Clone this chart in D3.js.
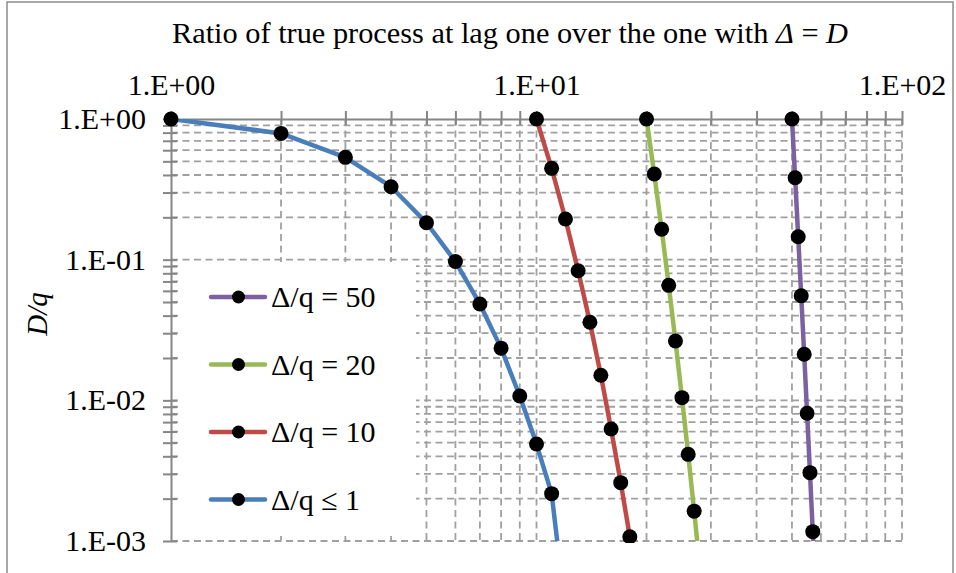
<!DOCTYPE html>
<html>
<head>
<meta charset="utf-8">
<script src="https://cdn.jsdelivr.net/npm/d3@7"></script>
<style>
  html, body { margin: 0; padding: 0; background: #ffffff; }
  svg { display: block; }
  text { font-family: "Liberation Serif", "Times New Roman", serif; fill: #000; }
</style>
</head>
<body>
<svg id="chart" width="956" height="573"></svg>
<script>
// ---- data --------------------------------------------------------------
const seriesNames = ["Δ/q ≤ 1", "Δ/q = 10", "Δ/q = 20", "Δ/q = 50"];

const blueX   = [1, 2, 3, 4, 5, 6, 7, 8, 9, 10, 11, 12];
const blueY   = [1, 0.79, 0.534, 0.330, 0.183, 0.097, 0.0484, 0.0235, 0.01074, 0.00489, 0.00217, 0.00032];

const redX    = [10, 11, 12, 13, 14, 15, 16, 17, 18, 19];
const redY    = [1, 0.446, 0.1946, 0.0835, 0.0359, 0.01508, 0.00625, 0.00260, 0.001073, 0.00046];

const greenX  = [20, 21, 22, 23, 24, 25, 26, 27, 28];
const greenY  = [1, 0.406, 0.1644, 0.0657, 0.0264, 0.01045, 0.00413, 0.00163, 0.00064];

const purpleX = [50, 51, 52, 53, 54, 55, 56, 57, 58];
const purpleY = [1, 0.3826, 0.1456, 0.0554, 0.02125, 0.00809, 0.00306, 0.001165, 0.00044];

const xMajorTicks = [1, 10, 100];
const yMajorTicks = [1, 0.1, 0.01, 0.001];

// ---- layout -------------------------------------------------------------
const svg = d3.select("#chart");
const W = 956, H = 573;
const plot = { left: 171, top: 119, right: 902, bottom: 541 };
const colors = ["#4A7EBB", "#BE4B48", "#98B954", "#7D60A0"];

const x = d3.scaleLog().domain([1, 100]).range([plot.left, plot.right]);
const y = d3.scaleLog().domain([1, 0.001]).range([plot.top, plot.bottom]);

// every 1..9 x 10^k value within a domain
function logSteps(lo, hi) {
  const out = [];
  for (let e = Math.round(Math.log10(lo)); e < Math.round(Math.log10(hi)); e++) {
    for (let m = 1; m < 10; m++) out.push(+(m * Math.pow(10, e)).toPrecision(6));
  }
  out.push(hi);
  return out;
}
const xAll = logSteps(1, 100);
const yAll = logSteps(0.001, 1);

const sci = v => {
  const e = Math.round(Math.log10(v));
  return "1.E" + (e < 0 ? "-" : "+") + String(Math.abs(e)).padStart(2, "0");
};

svg.append("rect").attr("width", W).attr("height", H).attr("fill", "#fff");

// chart area frame
svg.append("rect")
  .attr("x", 7).attr("y", 2).attr("width", 946).attr("height", 620)
  .attr("fill", "none").attr("stroke", "#8c8c8c").attr("stroke-width", 1.5);

// ---- title --------------------------------------------------------------
const title = svg.append("text")
  .attr("x", 510).attr("y", 43)
  .attr("text-anchor", "middle")
  .attr("textLength", 676)
  .attr("lengthAdjust", "spacingAndGlyphs")
  .style("font-size", "29px");
title.append("tspan").text("Ratio of true process at lag one over the one with ");
title.append("tspan").style("font-style", "italic").text("Δ");
title.append("tspan").text(" = ");
title.append("tspan").style("font-style", "italic").text("D");

// ---- gridlines ----------------------------------------------------------
const grid = svg.append("g")
  .attr("stroke", "#a0a0a0")
  .attr("stroke-width", 1.8)
  .attr("stroke-dasharray", "7,4.5")
  .attr("fill", "none");

grid.selectAll("line.v")
  .data(xAll.filter(v => v > 1))
  .join("line").attr("class", "v")
  .attr("x1", d => x(d)).attr("x2", d => x(d))
  .attr("y1", plot.top).attr("y2", plot.bottom);

grid.selectAll("line.h")
  .data(yAll.filter(v => v < 1))
  .join("line").attr("class", "h")
  .attr("y1", d => y(d)).attr("y2", d => y(d))
  .attr("x1", plot.left).attr("x2", plot.right);

// legend panel sits over the grid
const legendBox = { x: 178, y: 262, w: 238, h: 274 };
svg.append("rect")
  .attr("x", legendBox.x).attr("y", legendBox.y)
  .attr("width", legendBox.w).attr("height", legendBox.h)
  .attr("fill", "#fff");

// ---- axes ---------------------------------------------------------------
const axisColor = "#868686";

const xAxis = svg.append("g")
  .attr("transform", `translate(0,${plot.top})`)
  .call(d3.axisTop(x).tickValues(xAll).tickSizeInner(8).tickSizeOuter(0).tickFormat(""));
xAxis.selectAll(".tick line").attr("y1", 6).attr("y2", -8);

const xLabels = svg.append("g")
  .attr("transform", `translate(0,${plot.top})`)
  .call(d3.axisTop(x).tickValues(xMajorTicks).tickSize(0).tickPadding(24).tickFormat(sci));
xLabels.select(".domain").remove();

const yAxis = svg.append("g")
  .attr("transform", `translate(${plot.left},0)`)
  .call(d3.axisLeft(y).tickValues(yAll).tickSizeInner(8).tickSizeOuter(0).tickFormat(""));
yAxis.selectAll(".tick line").attr("x1", 6).attr("x2", -8);

const yLabels = svg.append("g")
  .attr("transform", `translate(${plot.left},0)`)
  .call(d3.axisLeft(y).tickValues(yMajorTicks).tickSize(0).tickPadding(25).tickFormat(sci));
yLabels.select(".domain").remove();

[xAxis, yAxis].forEach(g => {
  g.select(".domain").attr("stroke", axisColor).attr("stroke-width", 2);
  g.selectAll(".tick line").attr("stroke", axisColor).attr("stroke-width", 2);
});
[xLabels, yLabels].forEach(g => {
  g.selectAll("text")
    .attr("fill", "#000")
    .style("font-family", "'Liberation Serif', serif")
    .style("font-size", "30px");
});

// y axis title
svg.append("text")
  .attr("transform", "translate(47,314) rotate(-90)")
  .attr("text-anchor", "middle")
  .style("font-size", "29px")
  .style("font-style", "italic")
  .text("D/q");

// ---- series -------------------------------------------------------------
const defs = svg.append("defs");
defs.append("clipPath").attr("id", "plotClip")
  .append("rect")
  .attr("x", plot.left).attr("y", plot.top)
  .attr("width", plot.right - plot.left).attr("height", plot.bottom - plot.top);
defs.append("clipPath").attr("id", "markerClip")
  .append("rect")
  .attr("x", plot.left - 10).attr("y", plot.top - 10)
  .attr("width", plot.right - plot.left + 20).attr("height", plot.bottom - plot.top + 12);

const series = [
  { name: seriesNames[0], xs: blueX,   ys: blueY,   color: colors[0] },
  { name: seriesNames[1], xs: redX,    ys: redY,    color: colors[1] },
  { name: seriesNames[2], xs: greenX,  ys: greenY,  color: colors[2] },
  { name: seriesNames[3], xs: purpleX, ys: purpleY, color: colors[3] }
].map(s => ({ ...s, pts: s.xs.map((v, i) => [v, s.ys[i]]) }));

const line = d3.line()
  .x(d => x(d[0])).y(d => y(d[1]));

const lines = svg.append("g").attr("clip-path", "url(#plotClip)");
lines.selectAll("path")
  .data(series)
  .join("path")
  .attr("d", d => line(d.pts))
  .attr("fill", "none")
  .attr("stroke", d => d.color)
  .attr("stroke-width", 4.5)
  .attr("stroke-linejoin", "round");

const markers = svg.append("g").attr("clip-path", "url(#markerClip)");
series.forEach(s => {
  markers.append("g")
    .selectAll("circle")
    .data(s.pts)
    .join("circle")
    .attr("cx", d => x(d[0]))
    .attr("cy", d => y(d[1]))
    .attr("r", 7.5)
    .attr("fill", "#000");
});

// ---- legend -------------------------------------------------------------
const legendOrder = [3, 2, 1, 0];
const legend = svg.append("g");
legendOrder.forEach((si, i) => {
  const s = series[si];
  const ly = 297 + i * 67.5;
  const g = legend.append("g").attr("transform", `translate(0,${ly})`);
  g.append("line")
    .attr("x1", 211).attr("x2", 265).attr("y1", 0).attr("y2", 0)
    .attr("stroke", s.color).attr("stroke-width", 4.5).attr("stroke-linecap", "round");
  g.append("circle").attr("cx", 238.5).attr("cy", 0).attr("r", 6.5).attr("fill", "#000");
  g.append("text")
    .attr("x", 271).attr("y", 10)
    .style("font-size", "30px")
    .text(s.name);
});
</script>
</body>
</html>
